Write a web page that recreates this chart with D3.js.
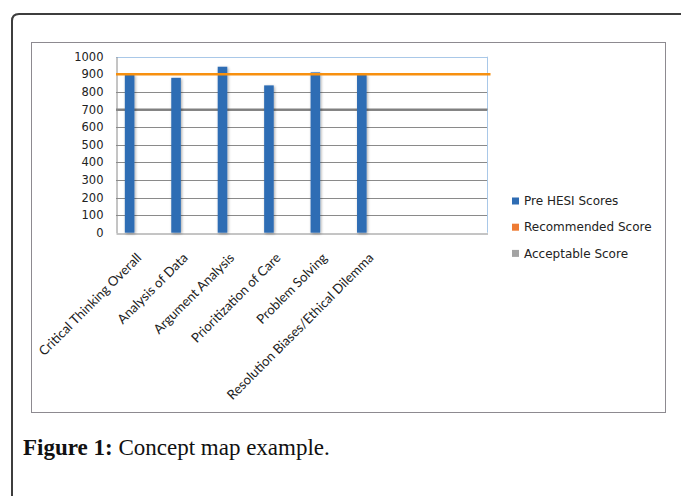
<!DOCTYPE html>
<html>
<head>
<meta charset="utf-8">
<script src="https://cdn.jsdelivr.net/npm/d3@7"></script>
<style>
  html, body { margin: 0; padding: 0; background: #fff; }
  svg { display: block; }
</style>
</head>
<body>
<svg id="chart" width="681" height="496"></svg>
<script>
// Category labels along the x axis (two trailing slots are left empty)
const categories = [
  "Critical Thinking Overall",
  "Analysis of Data",
  "Argument Analysis",
  "Prioritization of Care",
  "Problem Solving",
  "Resolution Biases/Ethical Dilemma"
];
const emptySlots = 2;

// Series
const seriesNames = ["Pre HESI Scores", "Recommended Score", "Acceptable Score"];
const preHesiScores = [900, 880, 943, 837, 911, 900];
const recommendedScore = 900;
const acceptableScore = 700;

// Y axis ticks
const yTicks = [0, 100, 200, 300, 400, 500, 600, 700, 800, 900, 1000];

const colors = {
  bar: "#2e6db4",
  recLine: "#f7900f",
  accLine: "#808080",
  legendBar: "#2f6cb3",
  legendRec: "#ee7b33",
  legendAcc: "#a3a3a3"
};

const svg = d3.select("#chart");

svg.append("rect").attr("width", 681).attr("height", 496).attr("fill", "#fff");

// Shadow used by the bars
const defs = svg.append("defs");
const f = defs.append("filter").attr("id", "barShadow")
  .attr("x", "-60%").attr("y", "-10%").attr("width", "220%").attr("height", "120%");
f.append("feGaussianBlur").attr("in", "SourceAlpha").attr("stdDeviation", 1.6).attr("result", "b");
f.append("feOffset").attr("in", "b").attr("dx", 0.5).attr("dy", 0.5).attr("result", "o");
f.append("feComponentTransfer").attr("in", "o").attr("result", "s")
  .append("feFuncA").attr("type", "linear").attr("slope", 0.35);
const fm = f.append("feMerge");
fm.append("feMergeNode").attr("in", "s");
fm.append("feMergeNode").attr("in", "SourceGraphic");

// Page frame with rounded top-left corner
const r = 7;
svg.append("path")
  .attr("d", `M12,500 L12,${14 + r} Q12,14 ${12 + r},14 L690,14`)
  .attr("fill", "none").attr("stroke", "#3d3d3d").attr("stroke-width", 2);

// Chart container box
svg.append("rect")
  .attr("x", 31.5).attr("y", 42.5).attr("width", 634).attr("height", 370)
  .attr("fill", "none").attr("stroke", "#8d8a90").attr("stroke-width", 1);

// Plot area
const plot = { left: 116, right: 487.5, top: 56.7, bottom: 232.7 };

const slotIds = d3.range(categories.length + emptySlots);
const x = d3.scaleBand().domain(slotIds).range([plot.left, plot.right]).padding(0);
const xs = d3.scaleBand().domain(seriesNames).range([0, x.bandwidth()])
  .paddingInner(0).paddingOuter(0.92);
const y = d3.scaleLinear().domain([0, 1000]).range([plot.bottom, plot.top]);

// Gridlines
svg.append("g")
  .selectAll("line").data(yTicks.filter(t => t > 0 && t < 1000)).join("line")
  .attr("x1", plot.left).attr("x2", plot.right)
  .attr("y1", d => Math.round(y(d)) + 0.5).attr("y2", d => Math.round(y(d)) + 0.5)
  .attr("stroke", "#8a8a8a").attr("stroke-width", 1);

// Plot border: light blue top/right, grey axes
svg.append("line")
  .attr("x1", plot.left).attr("x2", plot.right)
  .attr("y1", Math.round(y(1000)) + 0.5).attr("y2", Math.round(y(1000)) + 0.5)
  .attr("stroke", "#a9c8e8").attr("stroke-width", 1);
svg.append("line")
  .attr("x1", plot.right).attr("x2", plot.right)
  .attr("y1", y(1000)).attr("y2", y(0))
  .attr("stroke", "#a9c8e8").attr("stroke-width", 1);

// Acceptable score line (behind bars)
svg.append("line")
  .attr("x1", plot.left).attr("x2", plot.right)
  .attr("y1", y(acceptableScore)).attr("y2", y(acceptableScore))
  .attr("stroke", colors.accLine).attr("stroke-width", 2);

// Y axis
const yAxis = d3.axisLeft(y).tickValues(yTicks).tickSize(0).tickPadding(13)
  .tickFormat(d3.format("d"));
const gy = svg.append("g").attr("transform", `translate(${plot.left + 0.5},0)`).call(yAxis);
gy.select(".domain").attr("stroke", "#8a8a8a");
gy.selectAll("text")
  .attr("font-family", "DejaVu Sans, Verdana, sans-serif")
  .attr("font-size", "11.5px").attr("fill", "#222");

// X axis
const xAxis = d3.axisBottom(x).tickSize(0).tickFormat(() => "");
const gx = svg.append("g").attr("transform", `translate(0,${Math.round(plot.bottom) + 0.5})`).call(xAxis);
gx.select(".domain").attr("stroke", "#8a8a8a");

// Bars
svg.append("g")
  .selectAll("rect").data(preHesiScores).join("rect")
  .attr("x", (d, i) => x(i) + xs("Pre HESI Scores"))
  .attr("width", xs.bandwidth())
  .attr("y", d => y(d))
  .attr("height", d => y(0) - y(d))
  .attr("fill", colors.bar)
  .attr("filter", "url(#barShadow)");

// Recommended score line (over bars)
svg.append("line")
  .attr("x1", plot.left).attr("x2", plot.right + 3)
  .attr("y1", y(recommendedScore)).attr("y2", y(recommendedScore))
  .attr("stroke", colors.recLine).attr("stroke-width", 2.5);

// Rotated category labels
svg.append("g")
  .selectAll("text").data(categories).join("text")
  .attr("transform", (d, i) => `translate(${x(i) + x.bandwidth() / 2 + 3},${plot.bottom + 26}) rotate(-45)`)
  .attr("text-anchor", "end")
  .attr("font-family", "Lato, 'Open Sans', sans-serif")
  .attr("font-size", "13.2px")
  .attr("fill", "#222")
  .text(d => d);

// Legend
const legendColors = [colors.legendBar, colors.legendRec, colors.legendAcc];
const legend = svg.append("g").attr("transform", "translate(512,201)");
const li = legend.selectAll("g").data(seriesNames).join("g")
  .attr("transform", (d, i) => `translate(0,${i * 26.2})`);
li.append("rect").attr("x", 0).attr("y", -3.5).attr("width", 7).attr("height", 7)
  .attr("fill", (d, i) => legendColors[i]);
li.append("text").attr("x", 12).attr("y", 0).attr("dy", "0.35em")
  .attr("font-family", "DejaVu Sans, Verdana, sans-serif")
  .attr("font-size", "12px").attr("fill", "#222")
  .text(d => d);

// Figure caption
const cap = svg.append("text").attr("x", 23).attr("y", 455)
  .attr("font-family", "'Liberation Serif', 'Times New Roman', serif")
  .attr("font-size", "23px").attr("fill", "#111");
cap.append("tspan").attr("font-weight", "bold").text("Figure 1:");
cap.append("tspan").text(" Concept map example.");
</script>
</body>
</html>
